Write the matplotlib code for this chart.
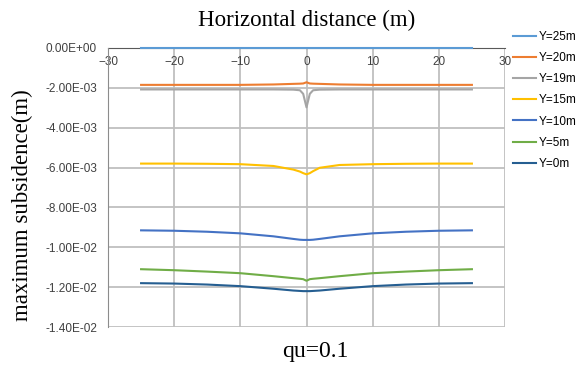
import numpy as np
from matplotlib import pyplot as plt
from matplotlib.ticker import FuncFormatter

# horizontal distance (m)
x = [-25, -20, -15, -10, -5, -2, -1, -0.5, 0, 0.5, 1, 2, 5, 10, 15, 20, 25]

y25 = [-0.00002] * 17
y20 = [-0.00185, -0.00185, -0.00185, -0.00185, -0.00183, -0.0018, -0.00179, -0.00178, -0.00172,
       -0.00178, -0.00179, -0.0018, -0.00183, -0.00185, -0.00185, -0.00185, -0.00185]
y19 = [-0.00208, -0.00208, -0.00208, -0.00208, -0.00208, -0.00209, -0.00212, -0.0023, -0.00298,
       -0.0023, -0.00212, -0.00209, -0.00208, -0.00208, -0.00208, -0.00208, -0.00208]
y15 = [-0.0058, -0.0058, -0.00581, -0.00583, -0.00592, -0.0061, -0.0062, -0.00628, -0.00634,
       -0.00628, -0.00618, -0.00601, -0.00587, -0.00583, -0.00581, -0.0058, -0.0058]
y10 = [-0.00915, -0.00917, -0.00922, -0.0093, -0.00945, -0.00958, -0.00962, -0.00963, -0.00963,
       -0.00963, -0.00962, -0.00958, -0.00945, -0.0093, -0.00922, -0.00917, -0.00915]
y5 = [-0.0111, -0.01115, -0.01122, -0.0113, -0.01145, -0.01155, -0.01158, -0.0116, -0.01168,
      -0.0116, -0.01158, -0.01155, -0.01145, -0.0113, -0.01122, -0.01115, -0.0111]
y0 = [-0.0118, -0.01182, -0.01187, -0.01195, -0.01208, -0.01217, -0.01219, -0.0122, -0.0122,
      -0.0122, -0.01219, -0.01217, -0.01208, -0.01195, -0.01187, -0.01182, -0.0118]

series = [('Y=25m', y25, '#5B9BD5'),
          ('Y=20m', y20, '#ED7D31'),
          ('Y=19m', y19, '#A5A5A5'),
          ('Y=15m', y15, '#FFC000'),
          ('Y=10m', y10, '#4472C4'),
          ('Y=5m', y5, '#70AD47'),
          ('Y=0m', y0, '#255E91')]


def fmt(v, pos):
    if abs(v) < 1e-12:
        return '0.00E+00'
    return '%.2E' % v


def main():
    plt.rc('font', family='Liberation Sans')
    fig = plt.figure(figsize=(5.79, 3.72), dpi=100)
    ax = fig.add_axes([108 / 579, 1 - 327 / 372, 397 / 579, 279 / 372])

    for label, vals, c in series:
        ax.plot(x, vals, color=c, lw=1.5, label=label, zorder=3, clip_on=False)

    ax.set_xlim(-30, 30)
    ax.set_ylim(-0.014, 0)
    ax.set_xticks(np.arange(-30, 31, 10))
    ax.set_yticks(np.arange(-0.014, 0.0001, 0.002))
    ax.yaxis.set_major_formatter(FuncFormatter(fmt))
    ax.grid(True, color='#BFBFBF', lw=1.3)
    ax.set_axisbelow(True)

    ax.spines['bottom'].set_position(('data', 0))
    ax.spines['bottom'].set_color('#595959')
    ax.spines['bottom'].set_zorder(2)
    ax.spines['left'].set_color('#8C8C8C')
    ax.spines['top'].set_visible(False)
    ax.spines['right'].set_visible(False)
    ax.tick_params(axis='both', length=0, labelsize=8.5, colors='#404040')
    ax.tick_params(axis='x', pad=6)
    ax.tick_params(axis='y', pad=8)

    fig.text(307 / 579, 1 - 20 / 372, 'Horizontal distance (m)', family='Liberation Serif',
             fontsize=16.5, ha='center', va='center')
    fig.text(315 / 579, 1 - 352 / 372, 'qu=0.1', family='Liberation Serif',
             fontsize=17, ha='center', va='center')
    fig.text(22 / 579, 1 - 205 / 372, 'maximum subsidence(m)', family='Liberation Serif',
             fontsize=16.5, ha='center', va='center', rotation=90)

    ax.legend(loc='upper left', bbox_to_anchor=(508 / 579, 1 - 26 / 372),
              bbox_transform=fig.transFigure, frameon=False, fontsize=8.5,
              handlelength=2.0, handletextpad=0.2, labelspacing=0.78, borderaxespad=0)

    plt.savefig('out.png', dpi=100)


if __name__ == '__main__':
    main()
